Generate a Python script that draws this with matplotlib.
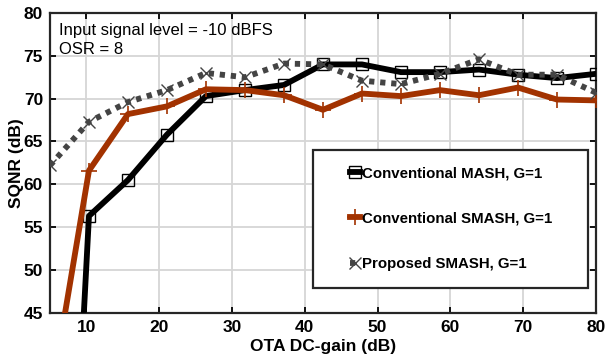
import numpy as np
import matplotlib
matplotlib.use("Agg")
import matplotlib.pyplot as plt
from matplotlib.patches import Rectangle

plt.rcParams['font.family'] = ['Liberation Sans', 'DejaVu Sans']

# OTA DC-gain sweep (dB)
gain_db = np.linspace(5, 80, 15)

# SQNR (dB)
sqnr_mash = [-30.0, 56.3, 60.5, 65.8, 70.3, 71.0, 71.6, 74.0, 74.0,
             73.1, 73.1, 73.4, 72.8, 72.4, 72.9]
sqnr_smash = [34.5, 61.6, 68.2, 69.1, 71.1, 71.0, 70.4, 68.7, 70.6,
              70.3, 71.0, 70.4, 71.3, 69.9, 69.8]
sqnr_proposed = [62.2, 67.3, 69.6, 71.0, 73.0, 72.5, 74.1, 74.0, 72.1,
                 71.7, 72.9, 74.6, 72.8, 72.8, 70.7]

labels = ['Conventional MASH, G=1', 'Conventional SMASH, G=1',
          'Proposed SMASH, G=1']

xticks = np.arange(10, 81, 10)
yticks = np.arange(45, 81, 5)

fig = plt.figure(figsize=(6.05, 3.62), dpi=100)
ax = fig.add_axes([0.0826, 0.136, 0.9024, 0.828])

ax.plot(gain_db, sqnr_mash, color='black', lw=4.2, marker='s', ms=9,
        mfc='none', mec='black', mew=1.0, label=labels[0], zorder=3)
ax.plot(gain_db, sqnr_smash, color='#a23200', lw=4.2, marker='+', ms=11,
        mec='#a23200', mew=1.2, label=labels[1], zorder=3)
ax.plot(gain_db, sqnr_proposed, color='#444444', lw=4.2, ls=(0, (0.9, 1.0)),
        marker='x', ms=9, mec='#444444', mew=1.0, label=labels[2], zorder=4)

ax.set_xlim(5, 80)
ax.set_ylim(45, 80)
ax.set_xticks(xticks)
ax.set_yticks(yticks)
ax.grid(True, color='#d6d6d6', lw=1.3)
ax.set_axisbelow(True)
ax.tick_params(direction='in', length=4, width=1.3, top=True, right=True,
               labelsize=12.5, pad=5)
for lab in ax.get_xticklabels() + ax.get_yticklabels():
    lab.set_fontweight('bold')
for sp in ax.spines.values():
    sp.set_linewidth(1.6)
    sp.set_color('#262626')

ax.set_xlabel('OTA DC-gain (dB)', fontsize=12.5, fontweight='bold', labelpad=3)
ax.set_ylabel('SQNR (dB)', fontsize=12.5, fontweight='bold', labelpad=0)

ax.text(0.016, 0.968, 'Input signal level = -10 dBFS\nOSR = 8',
        transform=ax.transAxes, ha='left', va='top', fontsize=12,
        linespacing=1.4)

# legend frame drawn separately (wide box like the original)
ax.add_patch(Rectangle((0.482, 0.082), 0.503, 0.461, transform=ax.transAxes,
                       facecolor='white', edgecolor='#262626', lw=1.6,
                       zorder=5))
leg = ax.legend(loc='center left', bbox_to_anchor=(0.536, 0.314),
                frameon=False, fontsize=10.8, handlelength=0.65,
                handletextpad=0.15, labelspacing=2.1, borderpad=0,
                markerscale=1.0)
leg.set_zorder(6)
for t in leg.get_texts():
    t.set_fontweight('bold')

fig.savefig('out.png', dpi=100)
